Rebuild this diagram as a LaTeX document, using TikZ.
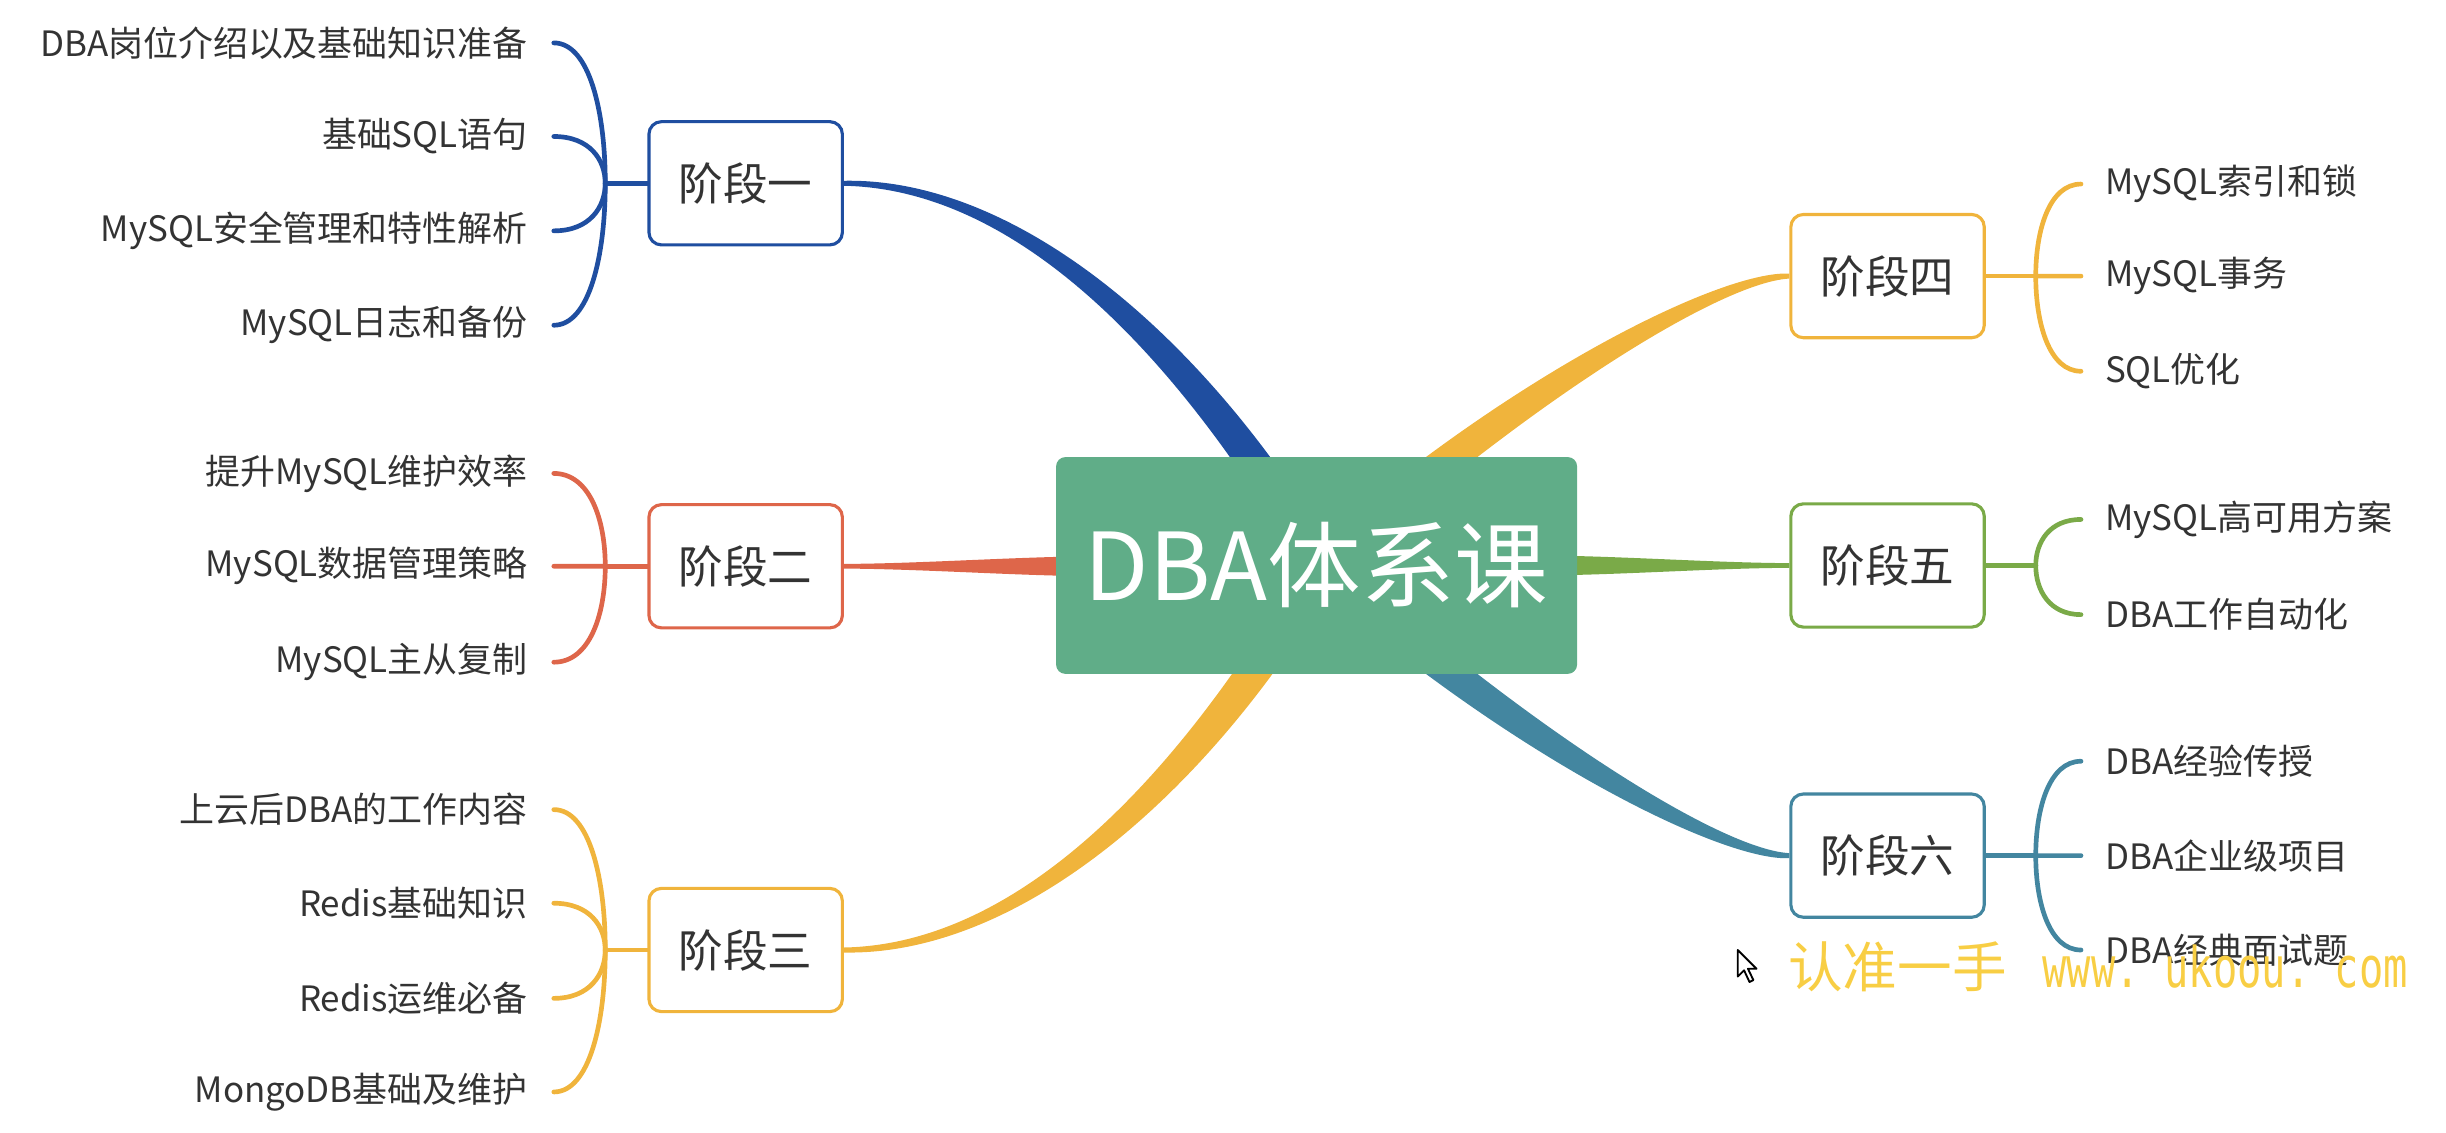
\documentclass[tikz,border=0pt]{standalone}
\usepackage{fontspec}
\usepackage{graphicx}
\setmainfont{Noto Sans CJK SC}
\newfontfamily\wmmono{DejaVu Sans Mono}
\usetikzlibrary{calc,backgrounds}
\definecolor{txt}{RGB}{51,51,51}
\definecolor{cblue}{RGB}{31,78,160}
\definecolor{corange}{RGB}{222,102,74}
\definecolor{cyellow}{RGB}{240,180,60}
\definecolor{cgreen}{RGB}{122,170,72}
\definecolor{cteal}{RGB}{67,134,160}
\definecolor{ccenter}{RGB}{96,173,136}
\definecolor{cwm}{RGB}{248,206,68}
% tapered ribbon: colour, P0, P1, P2, P3, half widths at P0, P1, P2, P3
\newcommand\ribbon[9]{%
  \fill[#1] ($(#2)!#6!90:(#3)$) .. controls ($(#3)!#7!-90:(#2)$) and ($(#4)!#8!90:(#5)$) .. ($(#5)!#9!-90:(#4)$)
   -- ($(#5)!#9!90:(#4)$) .. controls ($(#4)!#8!-90:(#5)$) and ($(#3)!#7!90:(#2)$) .. ($(#2)!#6!-90:(#3)$) -- cycle;}
% leaf branch: colour, junction, leaf anchor
\newcommand\leafline[3]{%
  \draw[branch,#1] (#2) .. controls ($(#2)!0.5!(#2|-#3)$) and ($(#3)!0.7!(#3-|#2)$) .. (#3);}
\begin{document}
\begin{tikzpicture}[x=0.5pt,y=-0.5pt,
  stagebox/.style={draw, fill=white, rounded corners=4pt, line width=1pt, minimum width=62pt, minimum height=39.5pt, inner sep=0pt, text=txt, font=\fontsize{14.3}{16}\selectfont},
  leafL/.style={anchor=east, inner xsep=8.2pt, inner ysep=1pt, text=txt, font=\fontsize{11.2}{13}\selectfont},
  leafR/.style={anchor=west, inner xsep=7.5pt, inner ysep=1pt, text=txt, font=\fontsize{11.2}{13}\selectfont},
  branch/.style={line width=1.5pt, line cap=round},
  wmark/.style={anchor=base west, inner sep=0pt, text=cwm}
]
\useasboundingbox (0,0) rectangle (1568,725.7);

% central topic
\node[fill=ccenter, rounded corners=3pt, minimum width=167pt, minimum height=69.5pt, inner sep=0pt, text=white, font=\fontsize{30}{33}\selectfont] (c) at (844,362.5) {DBA体系课};

% stages
\node[stagebox, draw=cblue]   (s1) at (478,117.5) {阶段一};
\node[stagebox, draw=corange] (s2) at (478,363)   {阶段二};
\node[stagebox, draw=cyellow] (s3) at (478,609)   {阶段三};
\node[stagebox, draw=cyellow] (s4) at (1210,177)  {阶段四};
\node[stagebox, draw=cgreen]  (s5) at (1210,362.5) {阶段五};
\node[stagebox, draw=cteal]   (s6) at (1210,548.5) {阶段六};

% ribbons from the centre
\begin{pgfonlayer}{background}
\ribbon{cblue}{s1.east}{640,117.5}{740,200}{820,320}{0.8pt}{1.75pt}{4.5pt}{5.5pt}
\ribbon{cyellow}{s3.east}{640,609}{740,527}{820,407}{0.8pt}{1.75pt}{4.5pt}{5.5pt}
\ribbon{cyellow}{s4.west}{1110,177}{1010,229}{900,317}{0.8pt}{1.75pt}{4.3pt}{5.3pt}
\ribbon{cteal}{s6.west}{1110,548.5}{1010,496}{900,408}{0.8pt}{1.75pt}{4.3pt}{5.3pt}
\ribbon{corange}{s2.east}{590,363}{650,363}{700,363}{0.75pt}{0.85pt}{3pt}{3.2pt}
\ribbon{cgreen}{s5.west}{1100,362.5}{1040,362.5}{990,362.5}{0.75pt}{0.85pt}{3pt}{3.2pt}
\end{pgfonlayer}

% junctions
\coordinate (j1) at (388,117.5);
\coordinate (j2) at (388,363);
\coordinate (j3) at (388,609);
\coordinate (j4) at (1305,177);
\coordinate (j5) at (1305,362.5);
\coordinate (j6) at (1305,548.5);

% leaves stage 1
\node[leafL] (l11) at (355,27.5)  {DBA岗位介绍以及基础知识准备};
\node[leafL] (l12) at (355,87.5)  {基础SQL语句};
\node[leafL] (l13) at (355,148)   {MySQL安全管理和特性解析};
\node[leafL] (l14) at (355,208.5) {MySQL日志和备份};
% leaves stage 2
\node[leafL] (l21) at (355,303.5) {提升MySQL维护效率};
\node[leafL] (l22) at (355,363)   {MySQL数据管理策略};
\node[leafL] (l23) at (355,424.5) {MySQL主从复制};
% leaves stage 3
\node[leafL] (l31) at (355,519) {上云后DBA的工作内容};
\node[leafL] (l32) at (355,579) {Redis基础知识};
\node[leafL] (l33) at (355,640) {Redis运维必备};
\node[leafL] (l34) at (355,700) {MongoDB基础及维护};
% leaves stage 4
\node[leafR] (l41) at (1334,118) {MySQL索引和锁};
\node[leafR] (l42) at (1334,177) {MySQL事务};
\node[leafR] (l43) at (1334,238) {SQL优化};
% leaves stage 5
\node[leafR] (l51) at (1334,333) {MySQL高可用方案};
\node[leafR] (l52) at (1334,394) {DBA工作自动化};
% leaves stage 6
\node[leafR] (l61) at (1334,488)   {DBA经验传授};
\node[leafR] (l62) at (1334,548.5) {DBA企业级项目};
\node[leafR] (l63) at (1334,609)   {DBA经典面试题};

% branch lines
\draw[branch,cblue] (s1.west) -- (j1);
\leafline{cblue}{j1}{l11.east}
\leafline{cblue}{j1}{l12.east}
\leafline{cblue}{j1}{l13.east}
\leafline{cblue}{j1}{l14.east}
\draw[branch,corange] (s2.west) -- (j2);
\leafline{corange}{j2}{l21.east}
\leafline{corange}{j2}{l22.east}
\leafline{corange}{j2}{l23.east}
\draw[branch,cyellow] (s3.west) -- (j3);
\leafline{cyellow}{j3}{l31.east}
\leafline{cyellow}{j3}{l32.east}
\leafline{cyellow}{j3}{l33.east}
\leafline{cyellow}{j3}{l34.east}
\draw[branch,cyellow] (s4.east) -- (j4);
\leafline{cyellow}{j4}{l41.west}
\leafline{cyellow}{j4}{l42.west}
\leafline{cyellow}{j4}{l43.west}
\draw[branch,cgreen] (s5.east) -- (j5);
\leafline{cgreen}{j5}{l51.west}
\leafline{cgreen}{j5}{l52.west}
\draw[branch,cteal] (s6.east) -- (j6);
\leafline{cteal}{j6}{l61.west}
\leafline{cteal}{j6}{l62.west}
\leafline{cteal}{j6}{l63.west}

% watermark and pointer
\node[wmark, font=\fontsize{17.5}{20}\selectfont] (wm1) at (1146,633) {认准一手};
\node[wmark, font=\wmmono\fontsize{18}{20}\selectfont] (wm2) at (1309,633) {\scalebox{0.72}[1]{www.\ ukoou.\ com}};
\draw[fill=white, line width=0.6pt, line join=round] (1114,609) -- ++(0,17) -- ++(4,-4) -- ++(3.5,7.5) -- ++(2.5,-1.2) -- ++(-3.5,-7.3) -- ++(5.5,0) -- cycle;
\end{tikzpicture}
\end{document}
